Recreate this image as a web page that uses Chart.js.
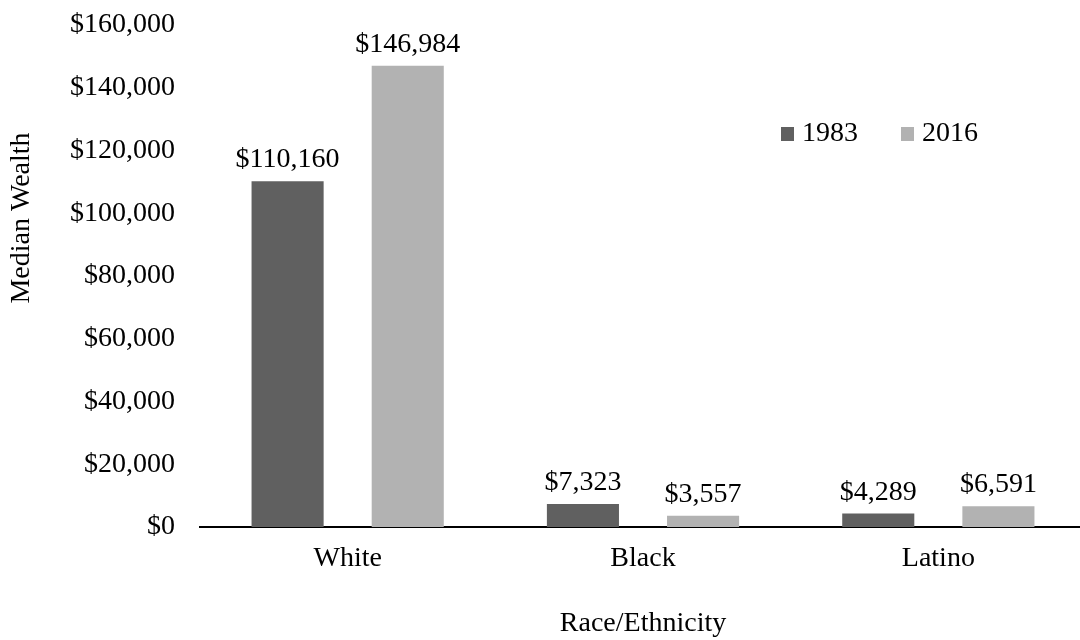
<!DOCTYPE html>
<html>
<head>
<meta charset="utf-8">
<title>Median Wealth by Race/Ethnicity</title>
<script src="https://cdn.jsdelivr.net/npm/chart.js@4"></script>
<style>
  html, body { margin: 0; padding: 0; background: #fff; overflow: hidden; }
  #wrap { width: 1086px; height: 640px; }
</style>
</head>
<body>
<div id="wrap"><canvas id="wealthChart"></canvas></div>
<script>
const categories = ['White', 'Black', 'Latino'];
const seriesLabels = ['1983', '2016'];
const wealth1983 = [110160, 7323, 4289];
const wealth2016 = [146984, 3557, 6591];
const yTicks = [0, 20000, 40000, 60000, 80000, 100000, 120000, 140000, 160000];
const yTitle = 'Median Wealth';
const xTitle = 'Race/Ethnicity';

const FONT = '"Liberation Serif", "Times New Roman", serif';
const SIZE = 28;
const money = (v) => '$' + Number(v).toLocaleString('en-US');

// value labels above each bar
const barLabels = {
  id: 'barLabels',
  afterDatasetsDraw(chart) {
    const ctx = chart.ctx;
    ctx.save();
    ctx.font = SIZE + 'px ' + FONT;
    ctx.fillStyle = '#000';
    ctx.textAlign = 'center';
    ctx.textBaseline = 'alphabetic';
    chart.data.datasets.forEach((ds, i) => {
      chart.getDatasetMeta(i).data.forEach((bar, j) => {
        ctx.fillText(money(ds.data[j]), bar.x, bar.y - 14);
      });
    });
    ctx.restore();
  }
};

// legend sits inside the plot and the y title is a bit above centre, like the original
const extras = {
  id: 'extras',
  afterDraw(chart) {
    const ctx = chart.ctx;
    ctx.save();
    ctx.font = SIZE + 'px ' + FONT;
    ctx.textBaseline = 'alphabetic';
    chart.data.datasets.forEach((ds, i) => {
      const x = 781 + i * 120;
      ctx.fillStyle = ds.backgroundColor;
      ctx.fillRect(x, 127, 13, 14);
      ctx.fillStyle = '#000';
      ctx.fillText(ds.label, x + 21, 141);
    });

    ctx.translate(22, 218);
    ctx.rotate(-Math.PI / 2);
    ctx.textAlign = 'center';
    ctx.textBaseline = 'middle';
    ctx.fillText(yTitle, 0, 0);
    ctx.restore();
  }
};

new Chart(document.getElementById('wealthChart'), {
  type: 'bar',
  data: {
    labels: categories,
    datasets: [
      { label: seriesLabels[0], data: wealth1983, backgroundColor: '#606060' },
      { label: seriesLabels[1], data: wealth2016, backgroundColor: '#b2b2b2' }
    ]
  },
  options: {
    responsive: true,
    maintainAspectRatio: false,
    animation: false,
    categoryPercentage: 0.8136,
    barPercentage: 0.6,
    layout: { padding: { top: 25, right: 0, left: 0, bottom: 0 } },
    plugins: {
      legend: { display: false },
      tooltip: { enabled: false }
    },
    scales: {
      x: {
        grid: { display: false, drawTicks: false },
        border: { display: true, color: '#000', width: 2 },
        ticks: { color: '#000', font: { family: FONT, size: SIZE }, padding: 15 },
        title: {
          display: true,
          text: xTitle,
          color: '#000',
          font: { family: FONT, size: SIZE },
          padding: { top: 0, bottom: 0 }
        },
        afterFit(scale) { scale.height = 113; }
      },
      y: {
        min: 0,
        max: 160000,
        afterBuildTicks(scale) { scale.ticks = yTicks.map(v => ({ value: v })); },
        grid: { display: false, drawTicks: false },
        border: { display: false },
        ticks: {
          color: '#000',
          font: { family: FONT, size: SIZE },
          padding: 25,
          callback: (v) => money(v)
        },
        afterFit(scale) {
          scale.width = 200;
          scale.paddingTop = 0;
          scale.paddingBottom = 0;
        }
      }
    }
  },
  plugins: [barLabels, extras]
});
</script>
</body>
</html>
